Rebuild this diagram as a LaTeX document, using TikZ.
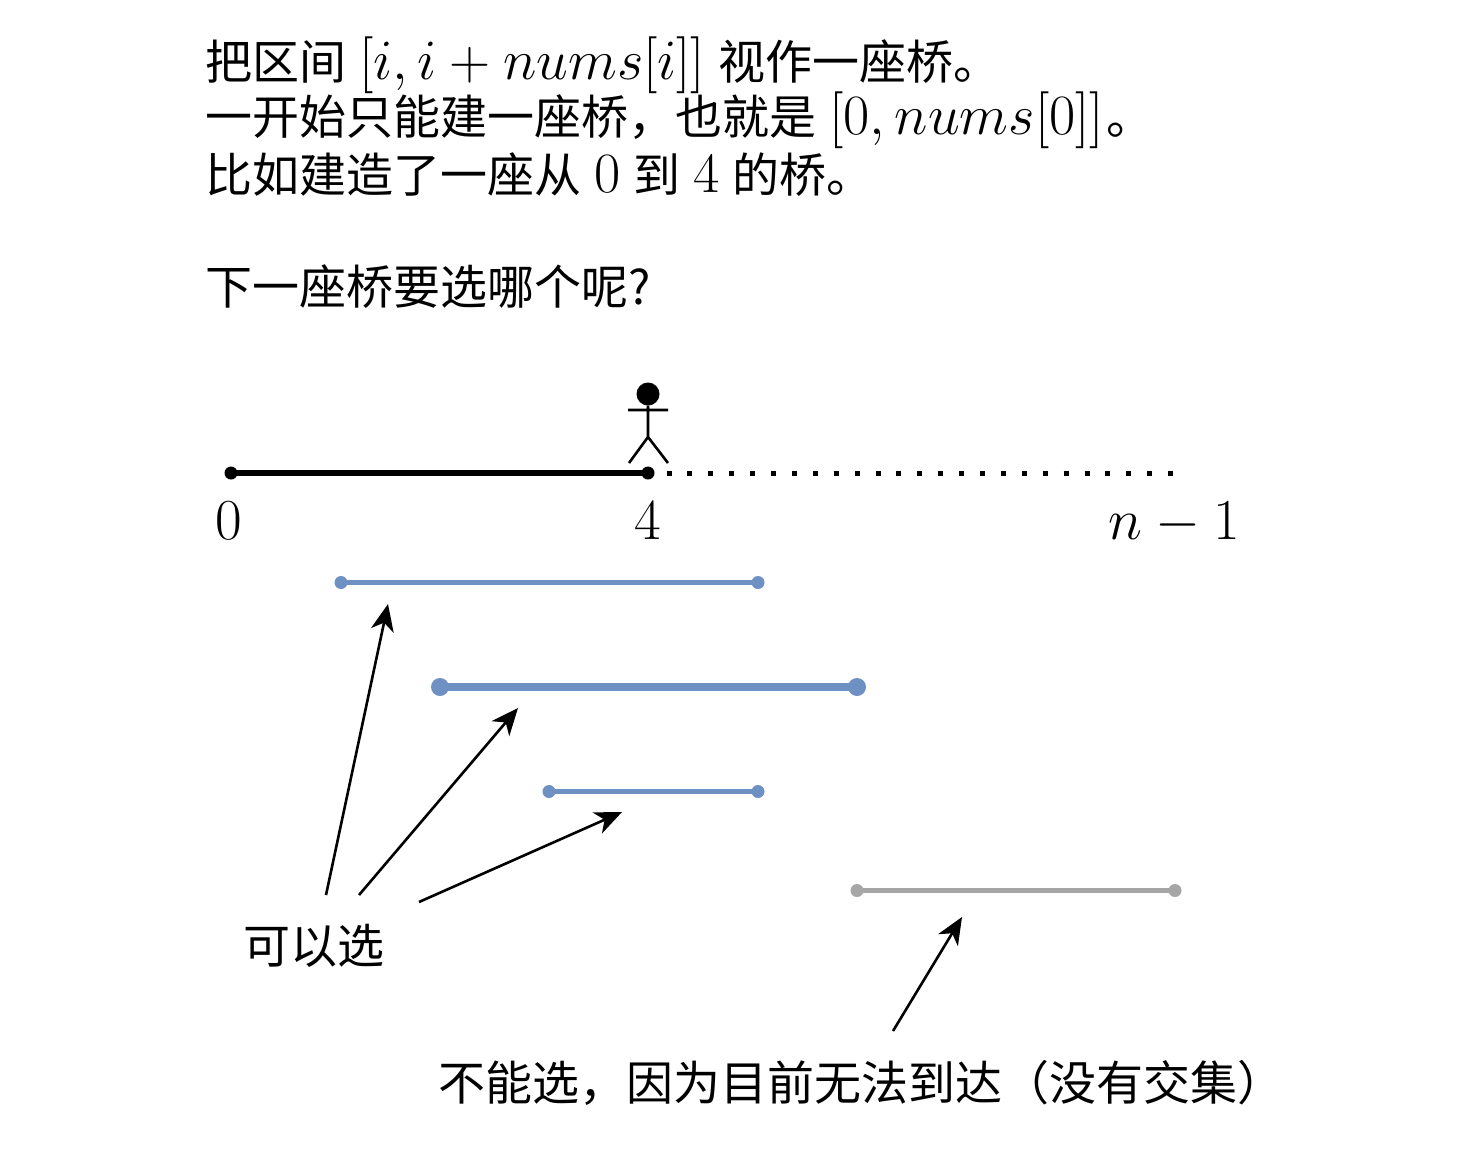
\documentclass[tikz,border=0pt]{standalone}
\usepackage{fix-cm}
\usepackage{fontspec}
\usetikzlibrary{arrows.meta}
\newfontfamily\cjk{Noto Sans CJK SC}
\definecolor{bridgeblue}{HTML}{6F90C2}
\definecolor{bridgegray}{HTML}{A6A6A6}
\DeclareMathSizes{57}{57}{40}{30}
\DeclareMathSizes{58}{58}{40}{30}
\tikzset{
  every node/.style={inner sep=0pt,outer sep=0pt},
  txt/.style={anchor=base west,font=\fontsize{47}{47}\selectfont\cjk},
  numlabel/.style={anchor=base,font=\fontsize{58}{58}\selectfont},
  callout/.style={draw,line width=2.6pt,-{Stealth[length=27pt,width=23pt,inset=8pt]}}
}
\newcommand{\cnum}[1]{\hspace{2.5pt}{\fontsize{57}{57}\selectfont$#1$}\hspace{2.5pt}}
\newcommand{\seg}[6]{%
  \node[circle,fill=#5,minimum size=#6] (#1a) at (#2,#4) {};
  \node[circle,fill=#5,minimum size=#6] (#1b) at (#3,#4) {};
  \draw[#5,line width=0.42*#6,shorten <=-3pt,shorten >=-3pt] (#1a) -- (#1b);}
\begin{document}
\begin{tikzpicture}[x=1pt,y=-1pt]
  \useasboundingbox (0,0) rectangle (1477,1171);
  \node[txt] (l1) at (205.5,79) {把区间 \cnum{[i,i+nums[i]]} 视作一座桥。};
  \node[txt] (l2) at (205.5,134) {一开始只能建一座桥，也就是 \cnum{[0,nums[0]]}。};
  \node[txt] (l3) at (205.5,192) {比如建造了一座从 \cnum{0} 到 \cnum{4} 的桥。};
  \node[txt] (l4) at (205.5,304) {下一座桥要选哪个呢?};

  % main line
  \seg{main}{231}{648}{473}{black}{13pt}
  \coordinate (dotstart) at (666.5,473);
  \coordinate (dotend) at (1175,473);
  \draw[line width=5pt,dash pattern=on 5pt off 15.9pt] (dotstart) -- (dotend);
  \node[numlabel] (n0) at (229,539) {$0$};
  \node[numlabel] (n4) at (648,539) {$4$};
  \node[numlabel] (n5) at (1174,539) {$n-1$};

  % person
  \node[circle,fill=black,minimum size=23pt] (head) at (648,394) {};
  \coordinate (hip) at (648,437);
  \coordinate (armL) at (628,410);
  \coordinate (armR) at (668,410);
  \coordinate (footL) at (629,463);
  \coordinate (footR) at (668,463);
  \draw[line width=2.6pt] (head) -- (hip) -- (footL) (hip) -- (footR) (armL) -- (armR);

  % bridges
  \seg{b1}{341}{758}{582.5}{bridgeblue}{13pt}
  \seg{b2}{440}{857}{687}{bridgeblue}{18pt}
  \seg{b3}{549}{758}{791.5}{bridgeblue}{13pt}
  \seg{b4}{857}{1175}{890.5}{bridgegray}{13pt}

  % labels and arrows
  \node[txt] (yes) at (243,963) {可以选};
  \node[txt] (no) at (438,1100) {不能选，因为目前无法到达（没有交集）};
  \coordinate (a1s) at (326,895);
  \coordinate (a1e) at (388,604);
  \coordinate (a2s) at (359,895);
  \coordinate (a2e) at (518,708);
  \coordinate (a3s) at (419,902);
  \coordinate (a3e) at (622,812);
  \coordinate (a4s) at (893,1031);
  \coordinate (a4e) at (962,917);
  \foreach \from/\to in {a1s/a1e,a2s/a2e,a3s/a3e,a4s/a4e}
    \draw[callout] (\from) -- (\to);
\end{tikzpicture}
\end{document}
